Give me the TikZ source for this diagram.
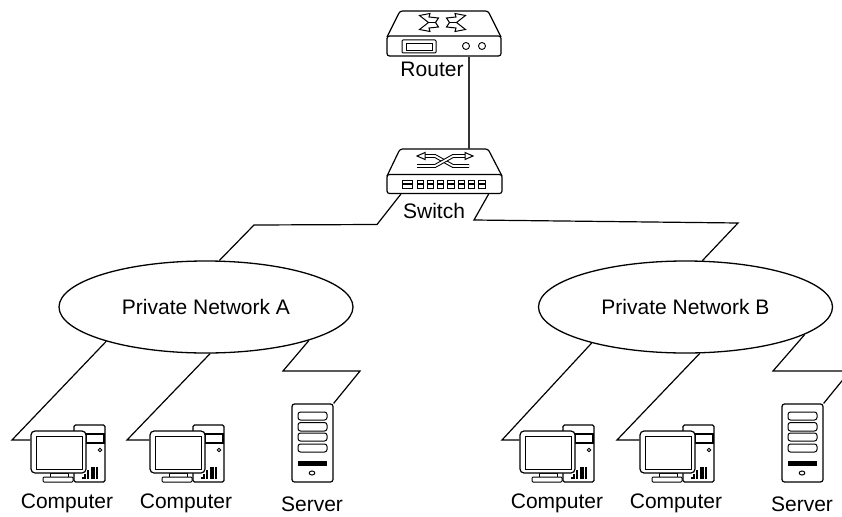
\documentclass[tikz,border=0pt]{standalone}
\usepackage{fontspec}
\setmainfont{Liberation Sans}
\usetikzlibrary{shapes.geometric}

\tikzset{
  wire/.style={line width=1.2pt,line join=miter},
  legend/.style={anchor=base,inner sep=0pt,font=\fontsize{21}{25}\selectfont},
  netcloud/.style={draw,ellipse,line width=1.3pt,minimum width=294pt,minimum height=92pt,inner sep=0pt,legend,anchor=center},
  panel/.style={draw,fill=white,line width=1.2pt,rounded corners=2.5pt,inner sep=0pt},
  crossline/.style={line width=1pt,double=white,double distance=1.8pt},
  computer/.pic={
    % la tour
    \draw[line width=1.1pt,rounded corners=1.5pt] (43,-6) rectangle (74,51);
    \draw[line width=1.7pt] (55,3) rectangle (73,12);
    \draw[line width=.9pt] (69,19) circle (1.8);
    \foreach \vx/\vh in {52/45.7,54/43,57/39,61/36,63/36,66/36}
      \draw[line width=1.2pt] (\vx,48) -- (\vx,\vh);
    % le pied
    \draw[line width=1pt,fill=white] (19,42) rectangle (37,46);
    \draw[line width=1pt,fill=white,rounded corners=1pt] (12,46) rectangle (42,51);
    % le moniteur
    \node[panel,rounded corners=4pt,minimum width=55pt,minimum height=42pt] (-screen) at (27.5,21) {};
    \draw[line width=1pt] (5,5) rectangle (51,38);
  },
  server/.pic={
    \node[panel,minimum width=41pt,minimum height=78pt] (-case) at (20.5,39) {};
    \foreach \sa/\sb in {8/16,18.5/27,29/37,40/48}
      \draw[line width=1pt,rounded corners=2.5pt] (6,\sa) rectangle (35,\sb);
    \fill (6,57) rectangle (35,62);
    \draw[line width=1pt] (20,69) ellipse (2.8 and 2);
  },
}

\begin{document}
\begin{tikzpicture}[x=1pt,y=-1pt]
  \useasboundingbox (0,0) rectangle (842,516);

  % Dessin du routeur
  \draw[line width=1.2pt,rounded corners=2.5pt] (387,37) -- (400,11) -- (488,11) -- (501,37);
  \node[panel,minimum width=114pt,minimum height=20pt] (router) at (444,46) {};
  \draw[line width=1pt,rounded corners=1pt] (402,40) rectangle (436,53);
  \draw[line width=.9pt] (406,43) rectangle (432,50);
  \draw[line width=.9pt] (466,46) circle (3.5);
  \draw[line width=.9pt] (482,46) circle (3.5);
  \foreach \flip in {1,-1} {
    \draw[line width=1pt,fill=white,shift={(442.5,0)},xscale=\flip]
      (-23,15.5) -- (-12.5,13.5) -- (-13.5,17) -- (-4,18) -- (-7,22.5) -- (-4,27) -- (-13.5,28)
      -- (-12.5,31.5) -- (-23,29.5) -- (-14,22.5) -- cycle;
    \draw[line width=1pt,shift={(442.5,0)},xscale=\flip] (-14,22.5) -- (-7,22.5);
  }
  \node[legend] (routerlabel) at (432,77) {Router};

  % Dessin du switch
  \draw[line width=1.2pt,rounded corners=2.5pt] (387,176) -- (400,149) -- (488,149) -- (502,176);
  \node[panel,minimum width=115pt,minimum height=19pt] (switch) at (444.5,184) {};
  \draw[crossline] (424,156) -- (435,156) -- (453,166) -- (469,166);
  \draw[crossline] (417,166) -- (435,166) -- (453,156) -- (466,156);
  \draw[line width=1pt,fill=white] (417,156) -- (425,152.5) -- (425,159.5) -- cycle;
  \draw[line width=1pt,fill=white] (473,156) -- (465,152.5) -- (465,159.5) -- cycle;
  \draw[line width=.9pt] (402,180) rectangle (412,183.5);
  \draw[line width=.9pt] (402,184.5) rectangle (412,188);
  \foreach \i in {0,...,6} {
    \draw[line width=.9pt] (417+10.3*\i,180) rectangle (423.3+10.3*\i,183.5);
    \draw[line width=.9pt] (417+10.3*\i,184.5) rectangle (423.3+10.3*\i,188);
  }
  \node[legend] (switchlabel) at (434,218) {Switch};

  % Les deux reseaux
  \node[netcloud] (netA) at (206,307) {Private Network A};
  \node[netcloud] (netB) at (685.5,307) {Private Network B};

  % Les postes
  \pic (pcAa) at (31,431) {computer};
  \pic (pcAb) at (150,431) {computer};
  \pic (srvA) at (292,404) {server};
  \pic (pcBa) at (520,431) {computer};
  \pic (pcBb) at (640,431) {computer};
  \pic (srvB) at (782,404) {server};
  \node[legend] (pcAalabel) at (67,508) {Computer};
  \node[legend] (pcAblabel) at (186,508) {Computer};
  \node[legend] (srvAlabel) at (312,511) {Server};
  \node[legend] (pcBalabel) at (557,508) {Computer};
  \node[legend] (pcBblabel) at (676,508) {Computer};
  \node[legend] (srvBlabel) at (802,511) {Server};

  % Les points de passage des liaisons
  \coordinate (switchtop) at (469,149);
  \coordinate (leftA) at (377,224.5);
  \coordinate (leftB) at (254,225);
  \coordinate (rightA) at (474,220);
  \coordinate (rightB) at (738,223);
  \coordinate (kneeAa) at (12,440);
  \coordinate (kneeAb) at (127,440);
  \coordinate (kneeAc) at (283,371);
  \coordinate (kneeAd) at (360,371);
  \coordinate (kneeBa) at (502,440);
  \coordinate (kneeBb) at (617,440);
  \coordinate (kneeBc) at (773,371);
  \coordinate (kneeBd) at (850,371);

  % Les liaisons
  \draw[line width=1.6pt,black!80] (switchtop |- router.south) -- (switchtop);
  \draw[wire] ([xshift=14.5pt]switch.south west) -- (leftA) -- (leftB) -- (netA.74.2);
  \draw[wire] ([xshift=-14pt]switch.south east) -- (rightA) -- (rightB) -- (netB.70.3);
  \draw[wire] (netA.199.3) -- (kneeAa) -- (kneeAa -| pcAa-screen.west);
  \draw[wire] (netA.275) -- (kneeAb) -- (kneeAb -| pcAb-screen.west);
  \draw[wire] (netA.342.2) -- (kneeAc) -- (kneeAd) -- (srvA-case.north east);
  \draw[wire] (netB.201.3) -- (kneeBa) -- (kneeBa -| pcBa-screen.west);
  \draw[wire] (netB.287.5) -- (kneeBb) -- (kneeBb -| pcBb-screen.west);
  \draw[wire] (netB.347.7) -- (kneeBc) -- (kneeBd) -- (srvB-case.north east);
\end{tikzpicture}
\end{document}
